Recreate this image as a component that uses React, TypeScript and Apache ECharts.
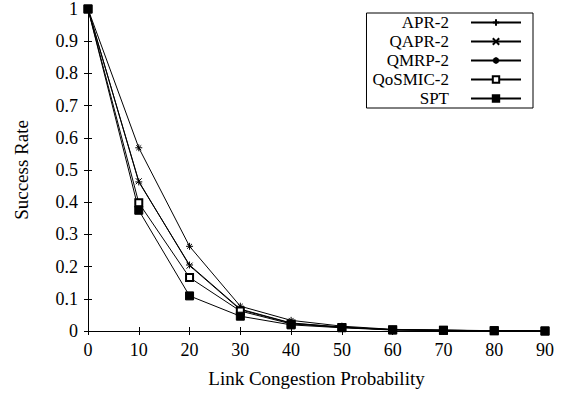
import React, { useEffect, useRef } from "react";
import * as echarts from "echarts";

const xValues = [0, 10, 20, 30, 40, 50, 60, 70, 80, 90];
const apr2 = [1, 0.463, 0.205, 0.068, 0.025, 0.012, 0.004, 0.002, 0.001, 0];
const qapr2 = [1, 0.465, 0.203, 0.066, 0.024, 0.012, 0.004, 0.002, 0.001, 0];
const qmrp2 = [1, 0.569, 0.263, 0.077, 0.033, 0.015, 0.005, 0.003, 0.001, 0];
const qosmic2 = [1, 0.398, 0.166, 0.062, 0.022, 0.011, 0.004, 0.002, 0.001, 0];
const spt = [1, 0.375, 0.109, 0.046, 0.019, 0.01, 0.003, 0.002, 0.001, 0];

const seriesNames = ["APR-2", "QAPR-2", "QMRP-2", "QoSMIC-2", "SPT"];
const seriesValues = [apr2, qapr2, qmrp2, qosmic2, spt];

const PLUS = "path://M5,0L5,10M0,5L10,5";
const CROSS = "path://M0,0L10,10M0,10L10,0";
const STAR = "path://M5,0L5,10M0,5L10,5M1.5,1.5L8.5,8.5M1.5,8.5L8.5,1.5";
const symbols = [PLUS, CROSS, STAR, "emptyRect", "rect"];
const sizes = [7, 6, 7, 7, 8];

const FONT = "'Liberation Serif', 'Times New Roman', serif";

export default function App() {
  const ref = useRef<HTMLDivElement>(null);
  useEffect(() => {
    if (!ref.current) return;
    const chart = echarts.init(ref.current, undefined, { renderer: "svg" });
    const axisCommon = {
      axisLine: { show: true, lineStyle: { color: "#000", width: 1 } },
      axisTick: { show: true, inside: true, length: 4, lineStyle: { color: "#000" } },
      splitLine: { show: false },
    };
    chart.setOption({
      animation: false,
      backgroundColor: "#fff",
      textStyle: { fontFamily: FONT },
      grid: { left: 88, right: 19, top: 8, bottom: 63 },
      legend: {
        orient: "vertical",
        right: 31,
        top: 13,
        align: "right",
        data: seriesNames,
        itemWidth: 50,
        itemHeight: 8,
        itemGap: 2,
        padding: [1, 11, 1, 6],
        borderColor: "#000",
        borderWidth: 1,
        formatter: (name: string) => `{t|${name}}`,
        textStyle: {
          fontFamily: FONT,
          fontSize: 17,
          color: "#000",
          rich: {
            t: { fontFamily: FONT, fontSize: 17, color: "#000", padding: [0, 17, 0, 0] },
          },
        },
      },
      xAxis: [
        {
          type: "value",
          min: 0,
          max: 90,
          interval: 10,
          name: "Link Congestion Probability",
          nameLocation: "middle",
          nameGap: 38,
          nameTextStyle: { fontFamily: FONT, fontSize: 19, color: "#000" },
          axisLabel: { fontFamily: FONT, fontSize: 18, color: "#000", margin: 10 },
          ...axisCommon,
        },
        {
          type: "value",
          position: "top",
          min: 0,
          max: 90,
          interval: 10,
          axisLabel: { show: false },
          ...axisCommon,
        },
      ],
      yAxis: [
        {
          type: "value",
          min: 0,
          max: 1,
          interval: 0.1,
          name: "Success Rate",
          nameLocation: "middle",
          nameGap: 57,
          nameTextStyle: { fontFamily: FONT, fontSize: 19, color: "#000" },
          axisLabel: { fontFamily: FONT, fontSize: 18, color: "#000", margin: 10 },
          ...axisCommon,
        },
        {
          type: "value",
          position: "right",
          min: 0,
          max: 1,
          interval: 0.1,
          axisLabel: { show: false },
          ...axisCommon,
        },
      ],
      series: seriesNames.map((name, i) => ({
        name,
        type: "line",
        data: xValues.map((x, j) => [x, seriesValues[i][j]]),
        symbol: symbols[i],
        symbolSize: sizes[i],
        showAllSymbol: true,
        lineStyle: { color: "#000", width: 1 },
        itemStyle: { color: "#000", borderColor: "#000", borderWidth: 1 },
        emphasis: { disabled: true },
      })),
    });
    return () => chart.dispose();
  }, []);
  return <div ref={ref} style={{ width: 564, height: 394, position: "absolute", left: 0, top: 0 }} />;
}
